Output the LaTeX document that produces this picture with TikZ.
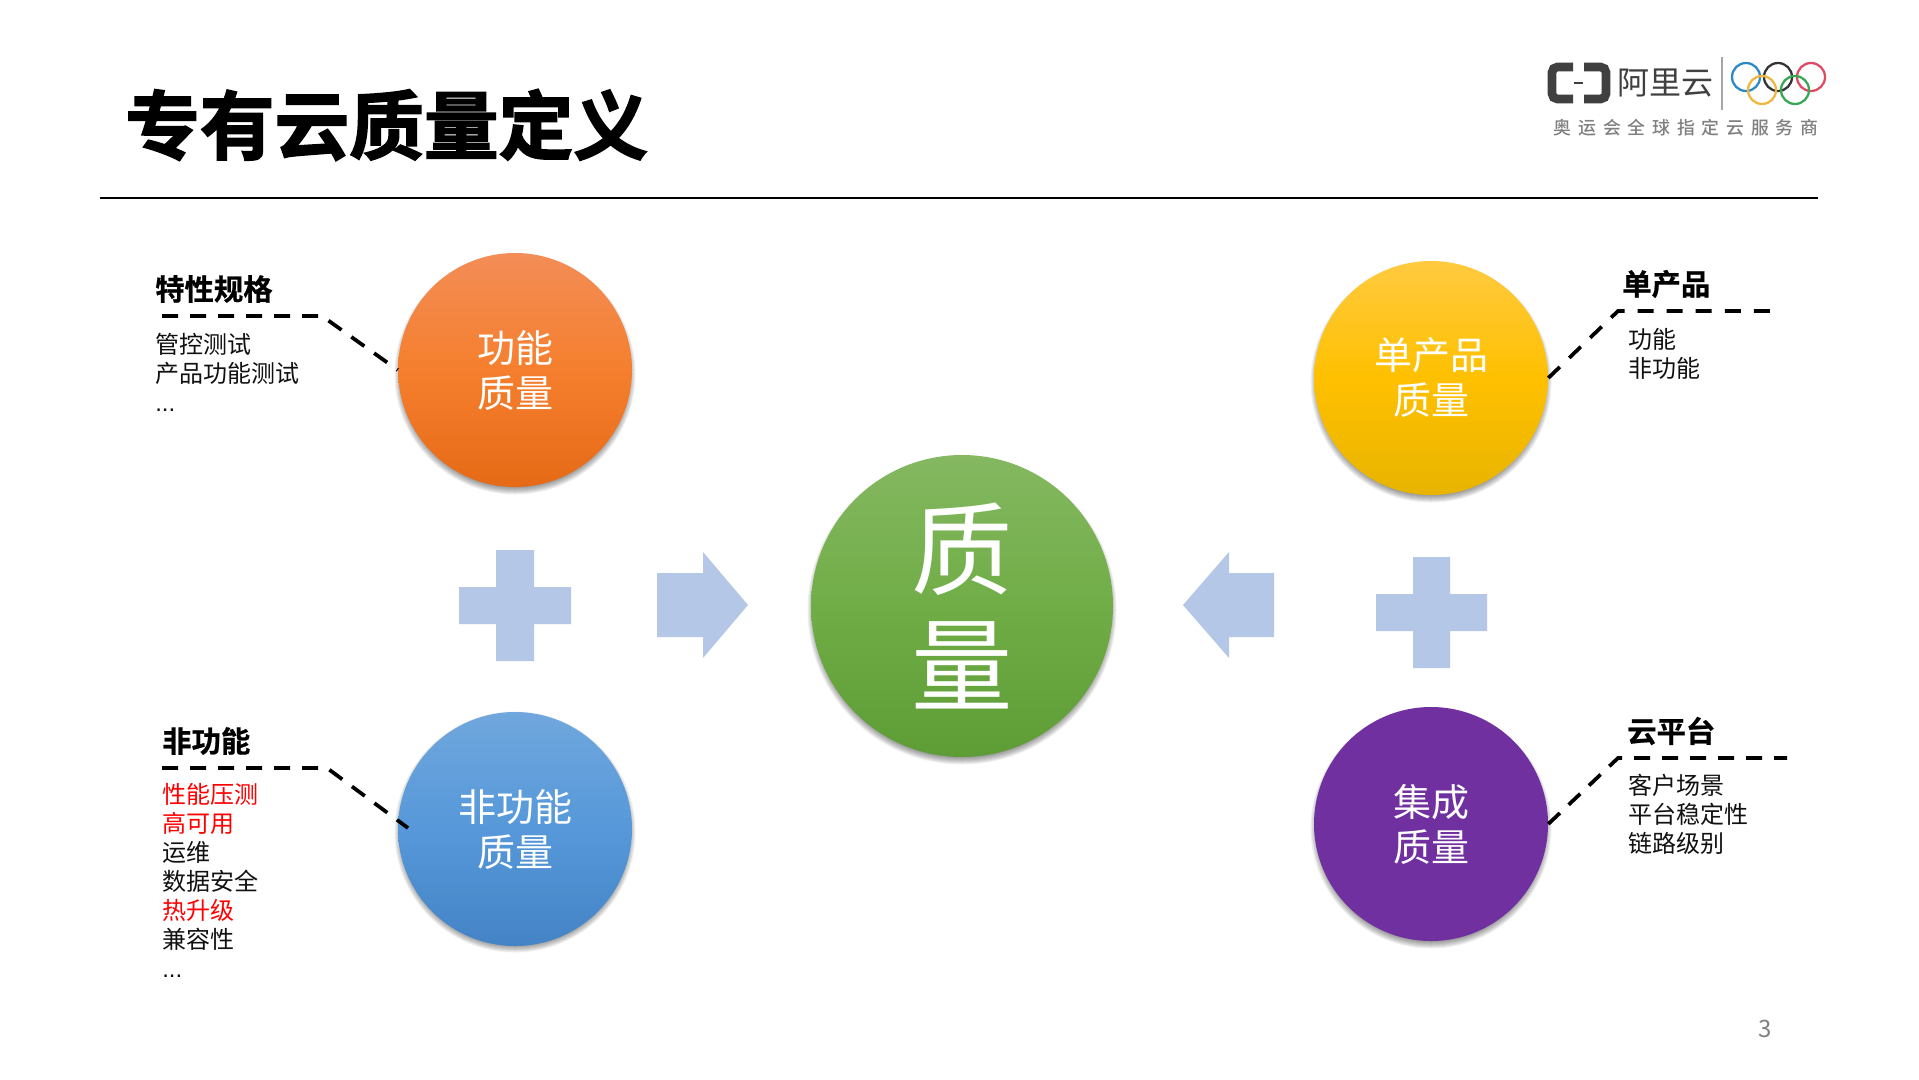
\documentclass[tikz,border=0pt]{standalone}
\usepackage{fontspec}
\setmainfont{Noto Sans CJK SC}[BoldFont={Noto Sans CJK SC Bold}]
\newfontfamily\titlefont{Noto Sans CJK SC Bold}[FakeBold=2.2]
\newfontfamily\headfont{Noto Sans CJK SC Bold}[FakeBold=0.7]
\newfontfamily\spacedfont{Noto Sans CJK SC Medium}[LetterSpace=38]
\newfontfamily\latinfont{Liberation Sans}
\definecolor{flow}{HTML}{B4C7E7}
\definecolor{ink}{HTML}{111111}
\definecolor{logoink}{HTML}{404040}
\definecolor{ringblue}{HTML}{2A8AC9}
\definecolor{ringblack}{HTML}{333333}
\definecolor{ringred}{HTML}{DE4A62}
\definecolor{ringyellow}{HTML}{EFB73E}
\definecolor{ringgreen}{HTML}{35A853}
\newcommand{\softshadow}[3]{%
  \foreach \k in {0,1,...,9}{
    \fill[black,opacity=0.06] (#1,#2+4) circle ({(#3+3.5-\k)*0.75pt});
  }}
\tikzset{
  ball/.style={circle,inner sep=0pt,minimum size=234*0.75pt,text=white,align=center,
    font=\fontsize{28.5}{33.75}\selectfont},
  lead/.style={line width=2.8pt,black,dash pattern=on 12pt off 9pt},
  leadlong/.style={lead,dash pattern=on 12pt off 9.8pt},
  heading/.style={anchor=west,inner sep=0pt,text=black,font=\fontsize{22}{26}\headfont},
  listing/.style={anchor=north west,inner sep=0pt,align=left,text=ink,
    font=\fontsize{18}{21.75}\selectfont},
  ring/.style={draw=#1,line width=1.7pt,circle,minimum size=28*0.75pt,inner sep=0pt}
}
\begin{document}
\begin{tikzpicture}[x=0.75pt,y=-0.75pt]
\useasboundingbox (0,0) rectangle (1919,1079);
\fill[white] (0,0) rectangle (1919,1079);

% title and rule
\node[anchor=west,inner sep=0pt,text=black,font=\fontsize{56}{60}\titlefont] (title) at (125,125) {专有云质量定义};
\coordinate (ruleL) at (100,198);
\coordinate (ruleR) at (1818,198);
\draw[line width=0.8pt,black] (ruleL) -- (ruleR);

% logo
\draw[logoink,line width=6.5pt,rounded corners=4pt] (1573,67) -- (1552,67) -- (1552,99) -- (1573,99);
\draw[logoink,line width=6.5pt,rounded corners=4pt] (1584,67) -- (1606,67) -- (1606,99) -- (1584,99);
\draw[logoink,line width=0.8pt] (1574,83) -- (1583,83);
\node[inner sep=0pt,text=logoink,font=\fontsize{24}{26}\selectfont] (aliyun) at (1665,83) {阿里云};
\draw[gray!70,line width=1.4pt] (1722,57) -- (1722,110);
\node[ring=ringblue] (r1) at (1746,77) {};
\node[ring=ringblack] (r2) at (1778,77) {};
\node[ring=ringred] (r3) at (1811,77) {};
\node[ring=ringyellow] (r4) at (1762,90) {};
\node[ring=ringgreen] (r5) at (1795,90) {};
\node[inner sep=0pt,text=gray,font=\fontsize{13.4}{15}\spacedfont] (slogan) at (1686,128) {奥运会全球指定云服务商};

% soft shadows
\softshadow{515}{370}{117}
\softshadow{515}{828}{117}
\softshadow{1431}{378}{117}
\softshadow{1431}{824}{117}
\softshadow{962}{606}{151}

% balls
\node[ball,top color={rgb,255:red,243;green,141;blue,87},bottom color={rgb,255:red,230;green,106;blue,22},
  middle color={rgb,255:red,245;green,127;blue,46}] (fn) at (515,370) {功能\\质量};
\node[ball,top color={rgb,255:red,112;green,167;blue,221},bottom color={rgb,255:red,68;green,132;blue,198},
  middle color={rgb,255:red,86;green,152;blue,217}] (nf) at (515,829) {非功能\\质量};
\node[ball,top color={rgb,255:red,255;green,202;blue,64},bottom color={rgb,255:red,232;green,180;blue,0},
  middle color={rgb,255:red,255;green,192;blue,0}] (sp) at (1431,378) {单产品\\质量};
\node[ball,fill={rgb,255:red,112;green,48;blue,160}] (it) at (1431,824) {集成\\质量};
\node[ball,minimum size=302*0.75pt,font=\fontsize{76}{87}\selectfont,
  top color={rgb,255:red,133;green,184;blue,97},bottom color={rgb,255:red,94;green,156;blue,54},
  middle color={rgb,255:red,112;green,173;blue,71}] (q) at (962,606) {质\\量};

% plus signs and block arrows
\fill[flow] (459,587) -- (496,587) -- (496,550) -- (534,550) -- (534,587) -- (571,587) -- (571,624) -- (534,624) -- (534,661) -- (496,661) -- (496,624) -- (459,624) -- cycle;
\fill[flow] (1376,594) -- (1413,594) -- (1413,557) -- (1450,557) -- (1450,594) -- (1487,594) -- (1487,631) -- (1450,631) -- (1450,668) -- (1413,668) -- (1413,631) -- (1376,631) -- cycle;
\fill[flow] (657,573) -- (703,573) -- (703,552) -- (748,605) -- (703,658) -- (703,637) -- (657,637) -- cycle;
\fill[flow] (1274,573) -- (1229,573) -- (1229,552) -- (1183,605) -- (1229,658) -- (1229,637) -- (1274,637) -- cycle;

% labels
\node[heading] (h1) at (155,289) {特性规格};
\node[listing] (l1) at (155,333) {管控测试\\产品功能测试\\{\latinfont ...}};
\node[heading] (h2) at (162,741) {非功能};
\node[listing] (l2) at (162,783) {\textcolor{red}{性能压测}\\\textcolor{red}{高可用}\\运维\\数据安全\\\textcolor{red}{热升级}\\兼容性\\{\latinfont ...}};
\node[heading] (h3) at (1622,284) {单产品};
\node[listing] (l3) at (1628,328) {功能\\非功能};
\node[heading] (h4) at (1627,731) {云平台};
\node[listing] (l4) at (1628,774) {客户场景\\平台稳定性\\链路级别};

% leaders
\coordinate (a1) at (162,316);
\coordinate (b1) at (322,316);
\draw[lead] (a1) -- (b1) -- (fn.west);
\coordinate (a2) at (162,768);
\coordinate (b2) at (327,768);
\coordinate (c2) at (408,828);
\draw[lead] (a2) -- (b2) -- (c2);
\coordinate (a3) at (1772,311);
\coordinate (b3) at (1618,311);
\draw[leadlong] (sp.east) -- (b3) -- (a3);
\coordinate (a4) at (1787,758);
\coordinate (b4) at (1618,758);
\draw[lead] (it.east) -- (b4) -- (a4);

% page number
\node[inner sep=0pt,text=gray,font=\fontsize{18}{20}\selectfont] (page) at (1765,1029) {3};
\end{tikzpicture}
\end{document}
